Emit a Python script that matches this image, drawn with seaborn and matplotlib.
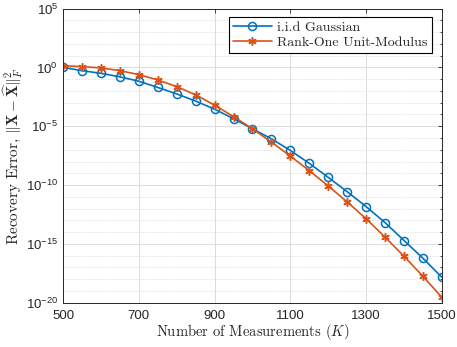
import numpy as np
import pandas as pd
import matplotlib
matplotlib.use("Agg")
import matplotlib.pyplot as plt
import seaborn as sns

K = [500, 550, 600, 650, 700, 750, 800, 850, 900, 950, 1000,
     1050, 1100, 1150, 1200, 1250, 1300, 1350, 1400, 1450, 1500]
gauss_log10 = [0.0, -0.27, -0.5, -0.8, -1.17, -1.7, -2.25, -2.86, -3.55, -4.36, -5.22,
               -6.07, -7.06, -8.16, -9.35, -10.57, -11.84, -13.2, -14.72, -16.23, -17.85]
rank1_log10 = [0.15, 0.07, -0.04, -0.27, -0.61, -1.06, -1.63, -2.33, -3.21, -4.18, -5.22,
               -6.35, -7.54, -8.78, -10.08, -11.44, -12.87, -14.44, -16.06, -17.77, -19.56]
series_names = ["i.i.d Gaussian", "Rank-One Unit-Modulus"]
x_ticks = [500, 700, 900, 1100, 1300, 1500]
y_major_exp = [5, 0, -5, -10, -15, -20]

df_g = pd.DataFrame({"K": K, "err": [10.0 ** v for v in gauss_log10]})
df_r = pd.DataFrame({"K": K, "err": [10.0 ** v for v in rank1_log10]})

sns.set_style("white")
plt.rcParams["mathtext.fontset"] = "cm"
plt.rcParams["font.family"] = ["Liberation Sans", "DejaVu Sans"]

fig = plt.figure(figsize=(4.57, 3.47), dpi=100)
ax = fig.add_axes([0.138, 0.128, 0.829, 0.847])

blue = "#0072BD"
orange = "#D95319"
sns.lineplot(data=df_g, x="K", y="err", color=blue, marker="o", markersize=5.8,
             markerfacecolor="none", markeredgecolor=blue, markeredgewidth=1.1,
             linewidth=1.2, ax=ax, label=series_names[0])
sns.lineplot(data=df_r, x="K", y="err", color=orange, marker=(6, 2, 0), markersize=6,
             markeredgecolor=orange, markeredgewidth=1.1,
             linewidth=1.2, ax=ax, label=series_names[1])

ax.set_yscale("log")
ax.set_xlim(500, 1500)
ax.set_ylim(1e-20, 1e5)
ax.set_xticks(x_ticks)
ax.set_xticklabels([str(t) for t in x_ticks])
ax.set_yticks([10.0 ** e for e in y_major_exp])
ax.set_yticklabels([r"$\mathdefault{10^{%d}}$" % e for e in y_major_exp])
ax.set_yticks([10.0 ** e for e in range(-20, 6) if e % 5 != 0], minor=True)
ax.yaxis.set_minor_formatter(matplotlib.ticker.NullFormatter())

ax.grid(True, which="major", color="#dcdcdc", linewidth=0.7, linestyle="-")
ax.grid(True, which="minor", axis="y", color="#cfcfcf", linewidth=0.6, linestyle=":")
ax.set_axisbelow(True)
ax.tick_params(which="both", direction="in", top=True, right=True, labelsize=9.5,
               length=3, width=0.6, colors="#262626")
ax.tick_params(axis="x", pad=5)
ax.tick_params(which="minor", length=1.8)
for s in ax.spines.values():
    s.set_color("#262626")
    s.set_linewidth(0.7)

ax.set_xlabel(r"Number of Measurements $(K)$", family="cmr10", fontsize=10.5, labelpad=0)
ax.set_ylabel(r"Recovery Error, $\|\mathbf{X}-\widehat{\mathbf{X}}\|_F^2$", family="cmr10",
              fontsize=11, labelpad=1)

leg = ax.legend(loc="upper right", bbox_to_anchor=(0.985, 0.985),
                prop={"family": "cmr10", "size": 10}, frameon=True, fancybox=False,
                edgecolor="black", borderpad=0.3, handlelength=2.8, labelspacing=0.12,
                handletextpad=0.4, borderaxespad=0.3)
leg.get_frame().set_linewidth(0.8)
leg.get_frame().set_alpha(1)

fig.savefig("out.png", dpi=100)
